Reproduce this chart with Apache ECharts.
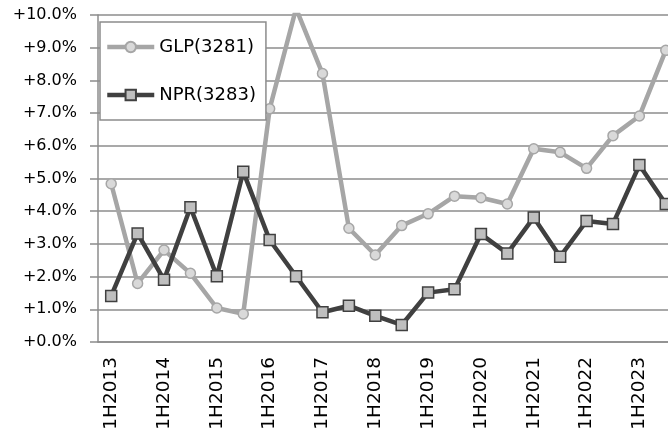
<!DOCTYPE html>
<html>
<head>
<meta charset="utf-8">
<script src="https://cdn.jsdelivr.net/npm/echarts@6/dist/echarts.min.js"></script>
<style>
    html, body { margin: 0; padding: 0; background: #fff; }
    #chart { width: 668px; height: 431px; }
</style>
</head>
<body>
<div id="chart"></div>
<script>
// Half-year periods
var periods = [
    '1H2013', '2H2013', '1H2014', '2H2014', '1H2015', '2H2015',
    '1H2016', '2H2016', '1H2017', '2H2017', '1H2018', '2H2018',
    '1H2019', '2H2019', '1H2020', '2H2020', '1H2021', '2H2021',
    '1H2022', '2H2022', '1H2023', '2H2023'
];

// Growth rates in percent
var glpValues = [
    4.84, 1.79, 2.81, 2.10, 1.04, 0.86, 7.13, 10.2, 8.21, 3.48, 2.66,
    3.56, 3.92, 4.46, 4.41, 4.22, 5.91, 5.80, 5.31, 6.31, 6.91, 8.92
];
var nprValues = [
    1.41, 3.32, 1.90, 4.12, 2.01, 5.21, 3.12, 2.01, 0.91, 1.11, 0.80,
    0.52, 1.51, 1.61, 3.30, 2.71, 3.81, 2.61, 3.70, 3.61, 5.41, 4.22
];

var gridColor = '#8c8c8c';

var chart = echarts.init(document.getElementById('chart'));

var option = {
    backgroundColor: '#fff',
    animation: false,
    textStyle: { fontFamily: 'DejaVu Sans' },
    // plot runs a little past the right edge, like the original crop
    grid: {
        left: 98,
        top: 15,
        width: 581,
        bottom: 89,
        containLabel: false,
        outerBoundsMode: 'none'
    },
    legend: {
        orient: 'vertical',
        left: 100,
        top: 22,
        backgroundColor: '#fff',
        borderColor: gridColor,
        borderWidth: 1.5,
        padding: [15, 10, 15, 5],
        itemWidth: 47,
        itemHeight: 13,
        itemGap: 28,
        lineStyle: { width: 4.5 },
        textStyle: {
            fontSize: 18,
            color: '#000',
            lineHeight: 20
        },
        data: ['GLP(3281)', 'NPR(3283)']
    },
    xAxis: {
        type: 'category',
        data: periods,
        boundaryGap: true,
        axisLine: { lineStyle: { color: gridColor, width: 1.5 } },
        axisTick: {
            interval: 0,
            length: 6,
            lineStyle: { color: gridColor, width: 1.5 }
        },
        axisLabel: {
            interval: 1,
            rotate: 90,
            margin: 15,
            fontSize: 18.5,
            color: '#000'
        }
    },
    yAxis: {
        type: 'value',
        min: 0,
        max: 10,
        interval: 1,
        axisLine: { show: true, lineStyle: { color: gridColor, width: 1.5 } },
        axisTick: { show: true, length: 8, lineStyle: { color: gridColor, width: 1.5 } },
        axisLabel: {
            margin: 21,
            fontSize: 16,
            color: '#000',
            formatter: function (v) {
                return '+' + v.toFixed(1) + '%';
            }
        },
        splitLine: { lineStyle: { color: gridColor, width: 1.5 } }
    },
    series: [
        {
            name: 'GLP(3281)',
            type: 'line',
            data: glpValues,
            clip: true,
            symbol: 'circle',
            symbolSize: 10,
            lineStyle: { color: '#a6a6a6', width: 4.5 },
            itemStyle: { color: '#d9d9d9', borderColor: '#a6a6a6', borderWidth: 1.5 }
        },
        {
            name: 'NPR(3283)',
            type: 'line',
            data: nprValues,
            clip: true,
            symbol: 'rect',
            symbolSize: 11,
            lineStyle: { color: '#404040', width: 4.5 },
            itemStyle: { color: '#bfbfbf', borderColor: '#404040', borderWidth: 1.5 }
        }
    ]
};

chart.setOption(option);
</script>
</body>
</html>
